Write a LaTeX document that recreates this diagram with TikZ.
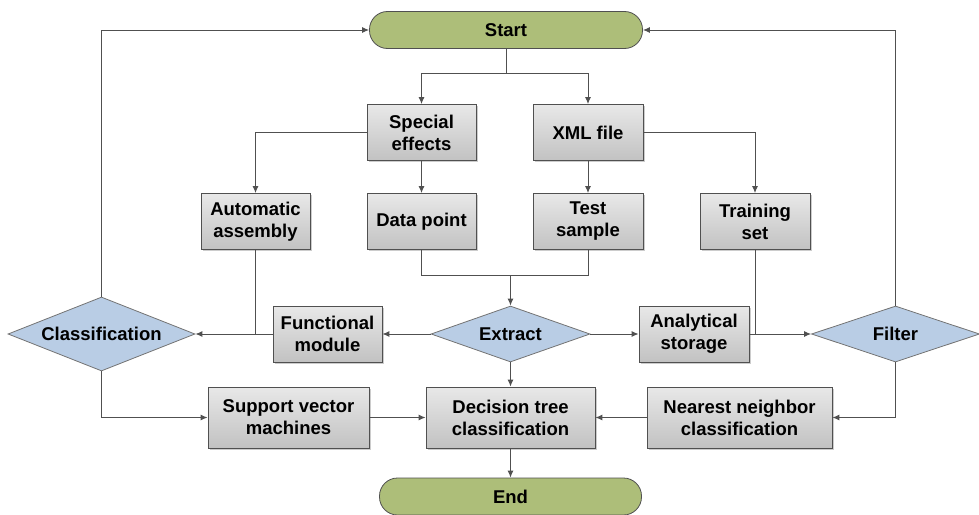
\documentclass[tikz,border=0pt]{standalone}
\usepackage{fontspec}
\setmainfont{Liberation Sans}
\usepackage{tikz}
\usetikzlibrary{positioning}
\usetikzlibrary{shapes.geometric,arrows.meta,shadows}

\definecolor{lineGray}{HTML}{505050}
\definecolor{termGreen}{HTML}{ADBE79}
\definecolor{decBlue}{HTML}{B9CDE5}

\tikzset{
	base/.style={font=\fontsize{18.5}{22}\selectfont\bfseries, align=center, inner sep=0pt, draw=lineGray, line width=0.8pt},
	terminal/.style={base, rectangle, rounded corners=18pt, fill=termGreen, minimum height=37pt},
	proc/.style={base, rectangle, top color=black!9, bottom color=black!24, minimum width=109pt, minimum height=56pt,
		drop shadow={shadow xshift=1.5pt, shadow yshift=-1.5pt, fill=black!40, opacity=.5}},
	decide/.style={base, diamond, aspect=2.8, fill=decBlue, draw=black!55},
	flow/.style={draw=lineGray, line width=1pt, -{Latex[length=7pt,width=6pt]}},
	link/.style={draw=lineGray, line width=1pt},
}

\begin{document}
\begin{tikzpicture}[x=1pt, y=-1pt, on grid]
	\useasboundingbox (0,0) rectangle (979,514);
	\node[terminal, minimum width=273pt] (start) at (506,30) {Start};
	\node[proc, below left =102.5pt and 84.5pt of start] (spec) {Special\\effects};
	\node[proc, right =166.5pt of spec, minimum width=110pt] (xml) {XML file};
	\node[proc, below =89pt of spec] (data) {Data point};
	\node[proc, below =89pt of xml, minimum width=110pt] (test) {Test\\sample};
	\node[proc, left =166pt of data] (auto) {Automatic\\assembly};
	\node[proc, right =167pt of test, minimum width=110pt] (train) {Training\\set};
	%%%%%%%%%%
	\node[decide, below right =112.5pt and 89pt of data, minimum width=159pt, minimum height=56pt] (extr) {Extract};
	\node[proc, left =183pt of extr] (func) {Functional\\module};
	\node[proc, right =183.5pt of extr, minimum width=110pt] (anal) {Analytical\\storage};
	\node[decide, aspect=2.5, left =226pt of func, minimum width=187pt, minimum height=74pt] (cls) {Classification};
	\node[decide, right =201.5pt of anal, minimum width=168pt, minimum height=56pt] (filt) {Filter};
	%%%%%%%%%%
	\node[proc, below =83.5pt of extr, minimum width=169pt, minimum height=61pt] (dtc) {Decision tree\\classification};
	\node[proc, left =222pt of dtc, minimum width=161pt, minimum height=61pt] (svm) {Support vector\\machines};
	\node[proc, right =229pt of dtc, minimum width=185pt, minimum height=61pt] (nnc) {Nearest neighbor\\classification};
	\node[terminal, below =79pt of dtc, minimum width=262pt] (stop) {End};
	%%%%%%%%%%
	\coordinate[below =43pt of start] (s1);
	\coordinate[above =59pt of extr] (j1);
	\draw[link] (start) -- (s1);
	\draw[flow] (s1) -| (spec);
	\draw[flow] (s1) -| (xml);
	\draw[flow] (spec) -| (auto);
	\draw[flow] (xml) -| (train);
	\draw[flow] (spec) -- (data);
	\draw[flow] (xml) -- (test);
	\draw[link] (data) |- (j1);
	\draw[link] (test) |- (j1);
	\draw[flow] (j1) -- (extr);
	%%%%%%%%%%
	\draw[flow] (extr) -- (func);
	\draw[flow] (extr) -- (anal);
	\draw[flow] (extr) -- (dtc);
	\draw[flow] (func) -- (cls);
	\draw[link] (auto) -- (auto |- cls);
	\draw[flow] (anal) -- (filt);
	\draw[link] (train) -- (train |- filt);
	\draw[flow] (cls) |- (start);
	\draw[flow] (filt) |- (start);
	\draw[flow] (cls) |- (svm);
	\draw[flow] (filt) |- (nnc);
	\draw[flow] (svm) -- (dtc);
	\draw[flow] (nnc) -- (dtc);
	\draw[flow] (dtc) -- (stop);
\end{tikzpicture}
\end{document}
